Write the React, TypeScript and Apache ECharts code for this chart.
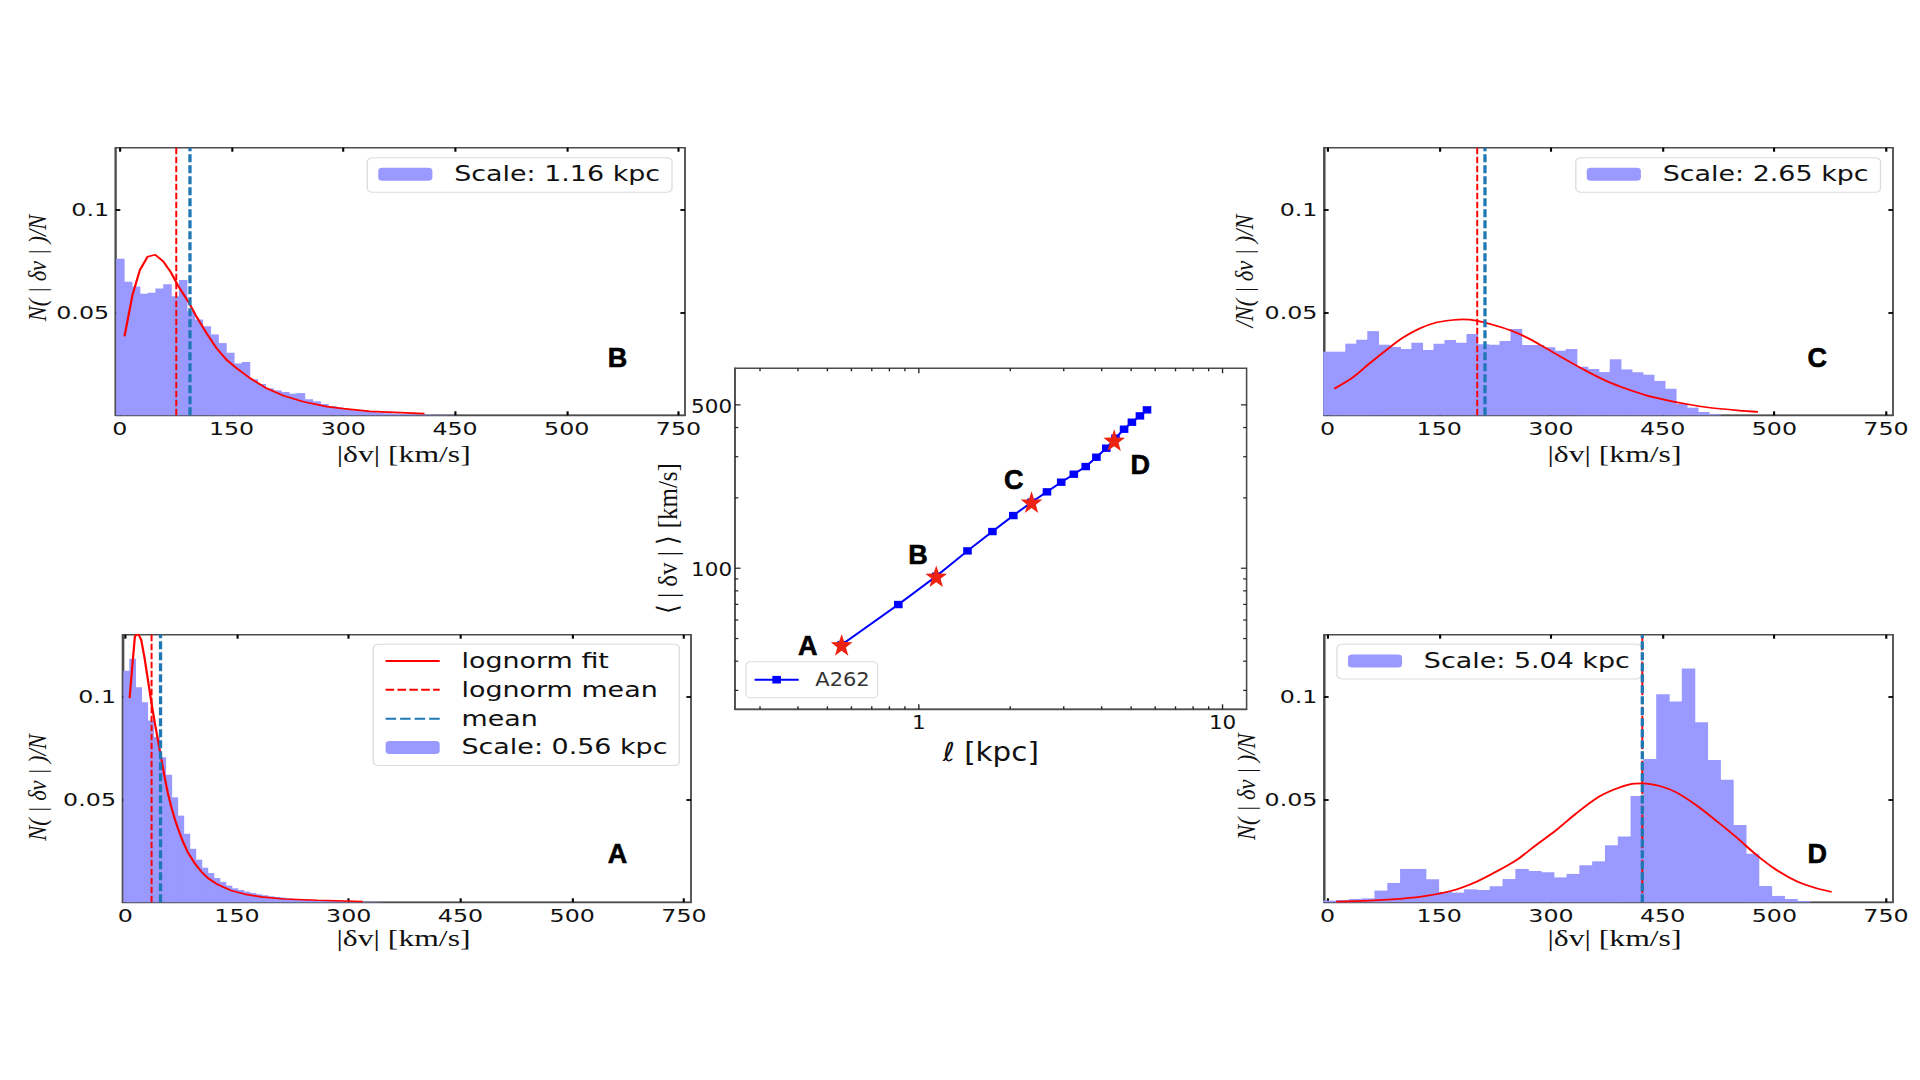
import React, { useEffect, useRef } from "react";
import * as echarts from "echarts";

const S1 = 1.32; // horizontal stretch of the side panels
const S2 = 1.13; // horizontal stretch of the central panel

const xTickValues = [0, 150, 300, 450, 600, 750];
const xTickLabels = ["0", "150", "300", "450", "500", "750"];
const yTickValues = [0.05, 0.1];
const yTickLabels = ["0.05", "0.1"];

const histA = [.1125,.1183,.1045,.0972,.0883,.0803,.0705,.0620,.0510,.0421,.0333,.0260,.0207,.0168,.0142,.0118,.0099,.0081,.0068,.0060,.0052,.0045,.0039,.0034,.0029,.0026,.0023,.0019,.0016,.0015,.0013,.0011,.0009,.0008,.0007,.0006,.0005,.0004,.0003,.0003,.0002,.0002,.0001];
const histB = [.0760,.0649,.0626,.0591,.0595,.0616,.0637,.0578,.0657,.0506,.0466,.0432,.0393,.0351,.0304,.0252,.0259,.0175,.0152,.0131,.0121,.0113,.0105,.0108,.0078,.0068,.0055,.0045,.0037,.0029,.0024,.0020,.0016,.0013,.0010,.0008,.0006,.0005,.0004,.0003,.0002,.0002,.0001];
const histC = [.0309,.0309,.0348,.0367,.0409,.0343,.0332,.0322,.0353,.0317,.0348,.0366,.0353,.0395,.0345,.0343,.0361,.0419,.0341,.0341,.0330,.0314,.0322,.0236,.0225,.0210,.0272,.0223,.0209,.0197,.0167,.0129,.0055,.0037,.0016,.0005];
const histD = [.0008,.0011,.0016,.0019,.0057,.0094,.0162,.0162,.0112,.0050,.0047,.0063,.0060,.0078,.0113,.0162,.0152,.0146,.0121,.0138,.0180,.0199,.0277,.0320,.0516,.0696,.1011,.0976,.1136,.0875,.0691,.0595,.0375,.0236,.0079,.0031,.0016,.0006];

const fitA = [[5.8,.0992],[9.8,.1162],[12.9,.1291],[15,.13],[18,.13],[21.4,.1275],[25.9,.1186],[30.4,.1081],[34.8,.0976],[39.3,.0879],[43.7,.0790],[48.2,.0701],[52.6,.0612],[57.1,.0531],[61.6,.0466],[66.1,.0409],[70.5,.0361],[77.2,.0296],[83.9,.0243],[92.9,.0191],[101.8,.0150],[110.7,.0118],[124.1,.0086],[142,.0057],[160,.0040],[182,.0026],[213,.0016],[258,.0010],[319,.0004]];
const fitB = [[6.3,.0383],[17,.0584],[26.9,.0705],[37.2,.0770],[47.5,.0780],[58.3,.0748],[68.2,.0697],[78,.0631],[93.3,.0544],[103,.0479],[116.6,.0398],[130,.0325],[143.5,.0269],[157,.0228],[175,.0180],[197,.0131],[220,.0095],[246.6,.0066],[278,.0042],[300,.0032],[336,.0019],[409,.0008]];
const fitC = [[9,.0129],[34,.0184],[56.4,.0252],[78.8,.0317],[101.2,.0377],[123.6,.0422],[146,.0451],[168.4,.0463],[181.8,.0466],[199.7,.0460],[222,.0440],[244.5,.0414],[266.9,.0379],[293.8,.0325],[320.6,.0269],[347.5,.0215],[374.4,.0167],[401.2,.0129],[428,.0097],[455,.0074],[481.8,.0055],[508.7,.0039],[553.5,.0023],[578,.0017]];
const fitD = [[11.6,.0003],[56.4,.0008],[101,.0018],[132.5,.0031],[168,.0057],[200,.0100],[226.6,.0149],[253.5,.0205],[280,.0278],[307,.0351],[334,.0432],[361,.0505],[383,.0545],[405.7,.0573],[422.7,.0578],[446,.0565],[468.4,.0534],[495,.0472],[522,.0396],[549,.0316],[576,.0230],[603,.0157],[630,.0102],[656.5,.0068],[677,.0050]];

const scaleLengths = [0.557,0.856,1.141,1.446,1.747,2.047,2.35,2.642,2.943,3.238,3.544,3.843,4.142,4.44,4.74,5.03,5.345,5.64];
const meanVelocities = [47,69.9,92.4,118.6,143.5,168,191.7,212.2,233.4,252.5,272.3,298.5,326.3,360,393.4,421.5,448.6,476];
const starPoints = [[0.557,47],[1.141,92.4],[2.35,191.7],[4.397,353]];

const centreXMajor = [1, 10];
const centreXMinor = [0.3,0.4,0.5,0.6,0.7,0.8,0.9,2,3,4,5,6,7,8,9];
const centreYMajor = [100, 500];
const centreYMinor = [30,40,50,60,70,80,90,200,300,400];

const PANELS = [
  { key: "A", hist: histA, fit: fitA, smooth: false, binStart: -2.2, binWidth: 8.08, mean: 47.3, logMean: 35.3, legend: "Scale: 0.56 kpc", full: true,
    left: 122.6, top: 634.7, width: 568.4, xMin: -3.6, xMax: 759.4, legendLeft: 373.3, legendTop: 644.3, nameGap: 24, namePad: [0, 5, 0, 0],
    yTitle: "N( | δv | )/N", yTitleX: 37.6, yTitleY: 787.5, letterX: 617.6, letterY: 854.3 },
  { key: "B", hist: histB, fit: fitB, smooth: false, binStart: -4.5, binWidth: 10.54, mean: 94.2, logMean: 75.8, legend: "Scale: 1.16 kpc", full: false,
    left: 115.7, top: 147.7, width: 569.3, xMin: -5.5, xMax: 758.7, legendLeft: 367.3, legendTop: 157.7, nameGap: 27, namePad: [0, 0, 0, 5],
    yTitle: "N( | δv | )/N", yTitleX: 37.6, yTitleY: 268, letterX: 617.6, letterY: 358.3 },
  { key: "C", hist: histC, fit: fitC, smooth: 0.3, binStart: -5.4, binWidth: 14.8, mean: 211.4, logMean: 201, legend: "Scale: 2.65 kpc", full: false,
    left: 1324, top: 147.7, width: 569, xMin: -4.8, xMax: 759.4, legendLeft: 1575.8, legendTop: 157.7, nameGap: 27, namePad: [0, 0, 0, 9],
    yTitle: "/N( | δv | )/N", yTitleX: 1244.5, yTitleY: 271, letterX: 1817.3, letterY: 358.3 },
  { key: "D", hist: histD, fit: fitD, smooth: 0.3, binStart: -5.4, binWidth: 17.2, mean: 422.7, logMean: 422.7, legend: "Scale: 5.04 kpc", full: false,
    left: 1324, top: 634.7, width: 569, xMin: -4.8, xMax: 759.4, legendLeft: 1337, legendTop: 644.3, nameGap: 24, namePad: [0, 0, 0, 9],
    yTitle: "N( | δv | )/N", yTitleX: 1246.8, yTitleY: 786.7, letterX: 1817.3, letterY: 854.3 },
];

const PANEL_H = 267.6;
const FRAME = "#4d4d4d";
const TXT = "#111";
const STAR = "path://M0,-10 L2.35,-3.24 L9.51,-3.09 L3.8,1.24 L5.88,8.09 L0,4 L-5.88,8.09 L-3.8,1.24 L-9.51,-3.09 L-2.35,-3.24 Z";
// The legend of a line series always draws a marker: this one is a sliver lying on the line itself.
const NO_SYMBOL = "path://M0,0L0.1,0L0.1,0.1Z M0,50L100,50L100,50.1L0,50.1Z M100,100L99.9,100L99.9,99.9Z";

function letter(text: string, px: number, py: number, s: number) {
  return {
    type: "text", x: px / s, y: py, scaleX: 1 / s, z: 20,
    style: { text, fontFamily: "Liberation Sans", fontWeight: "bold", fontSize: 27, fill: "#000", stroke: "#000", lineWidth: 0.6, align: "center", verticalAlign: "middle" },
  };
}

function sideOption() {
  const grid: any[] = [], xAxis: any[] = [], yAxis: any[] = [], series: any[] = [], legend: any[] = [], graphic: any[] = [];
  PANELS.forEach((p, i) => {
    grid.push({ left: p.left / S1, top: p.top, width: p.width / S1, height: PANEL_H, show: true, borderColor: FRAME, borderWidth: 1.4, backgroundColor: "transparent" });
    const tickX = { show: true, inside: true, length: 4, customValues: xTickValues, lineStyle: { color: "#000", width: 1.6 } };
    const tickY = { show: true, inside: true, length: 3.5, customValues: yTickValues, lineStyle: { color: "#000", width: 1.8 } };
    const ax = i * 2;
    xAxis.push({
      type: "value", gridIndex: i, position: "bottom", min: p.xMin, max: p.xMax, splitLine: { show: false },
      axisLine: { show: true, onZero: false, lineStyle: { color: FRAME, width: 1.4 } }, axisTick: tickX,
      axisLabel: { show: true, customValues: xTickValues, margin: 4, fontFamily: "DejaVu Sans", fontSize: 18, color: TXT, hideOverlap: false,
        formatter: (v: number) => xTickLabels[xTickValues.indexOf(v)] ?? "" },
      name: "|δv| [km/s]", nameLocation: "middle", nameGap: p.nameGap, nameMoveOverlap: false,
      nameTextStyle: { fontFamily: "Liberation Serif", fontSize: 24, color: TXT, padding: p.namePad },
    });
    xAxis.push({ type: "value", gridIndex: i, position: "top", min: p.xMin, max: p.xMax, splitLine: { show: false }, axisLine: { show: false, onZero: false }, axisTick: tickX, axisLabel: { show: false } });
    yAxis.push({
      type: "value", gridIndex: i, position: "left", min: 0, max: 0.13, splitLine: { show: false },
      axisLine: { show: true, onZero: false, lineStyle: { color: FRAME, width: 1.4 } }, axisTick: tickY,
      axisLabel: { show: true, customValues: yTickValues, margin: 5, fontFamily: "DejaVu Sans", fontSize: 18, color: TXT, hideOverlap: false, padding: [2, 0, 0, 0],
        formatter: (v: number) => yTickLabels[yTickValues.indexOf(v)] ?? "" },
    });
    yAxis.push({ type: "value", gridIndex: i, position: "right", min: 0, max: 0.13, splitLine: { show: false }, axisLine: { show: false, onZero: false }, axisTick: tickY, axisLabel: { show: false } });

    const common = { xAxisIndex: ax, yAxisIndex: ax, animation: false, silent: true };
    const binPx = (p.binWidth * (p.width / S1)) / (p.xMax - p.xMin) + 0.5;
    series.push({ ...common, type: "bar", name: p.legend, barWidth: binPx, itemStyle: { color: "#9999ff" }, z: 2,
      data: p.hist.map((v, k) => [p.binStart + (k + 0.5) * p.binWidth, v]) });
    series.push({ ...common, type: "line", name: "lognorm fit", symbol: NO_SYMBOL, showSymbol: false, clip: true, smooth: p.smooth, data: p.fit, lineStyle: { color: "#ff0000", width: 1.7 }, itemStyle: { color: "#ff0000" }, z: 4 });
    series.push({ ...common, type: "line", name: "lognorm mean", symbol: NO_SYMBOL, showSymbol: false, data: [[p.logMean, 0], [p.logMean, 0.13]], lineStyle: { color: "#ff0000", width: 1.5, type: [6.5, 2.5] }, itemStyle: { color: "#ff0000" }, z: 5 });
    series.push({ ...common, type: "line", name: "mean", symbol: NO_SYMBOL, showSymbol: false, data: [[p.mean, 0], [p.mean, 0.13]], lineStyle: { color: "#1f77b4", width: 2.5, type: [8, 3] }, itemStyle: { color: "#1f77b4" }, z: 6 });

    legend.push({
      left: p.legendLeft / S1, top: p.legendTop, orient: "vertical", align: "left",
      data: p.full ? ["lognorm fit", "lognorm mean", "mean", p.legend] : [p.legend],
      itemWidth: 41, itemHeight: 13, itemGap: 8.9, selectedMode: false,
      padding: [6.6, 9, 8, 8.3], borderColor: "#dcdcdc", borderWidth: 1, borderRadius: 4, backgroundColor: "rgba(255,255,255,0.8)",
      textStyle: { fontFamily: "DejaVu Sans", fontSize: 20.4, lineHeight: 20, color: TXT, padding: [0, 0, 0, 11.5] },
    });
    graphic.push({
      type: "text", x: p.yTitleX / S1, y: p.yTitleY, rotation: Math.PI / 2, scaleY: 0.85, z: 20,
      style: { text: p.yTitle, fontFamily: "Liberation Serif", fontStyle: "italic", fontSize: 22.5, fill: TXT, align: "center", verticalAlign: "middle" },
    });
    graphic.push(letter(p.key, p.letterX, p.letterY, S1));
  });
  return { animation: false, grid, xAxis, yAxis, series, legend, graphic };
}

function tickSeries(kind: "x" | "y", values: number[], len: number, labelled: boolean) {
  return {
    type: "custom", silent: true, clip: false, animation: false, z: 8,
    data: values.map((v) => (kind === "x" ? [v, 100] : [1, v])),
    renderItem: (params: any, api: any) => {
      const r = params.coordSys;
      const children: any[] = [];
      const stroke = { stroke: "#222", lineWidth: 1.2 };
      if (kind === "x") {
        const v = api.value(0);
        const px = api.coord([v, 100])[0];
        children.push({ type: "line", shape: { x1: px, y1: r.y + r.height, x2: px, y2: r.y + r.height - len }, style: stroke });
        children.push({ type: "line", shape: { x1: px, y1: r.y, x2: px, y2: r.y + len }, style: stroke });
        if (labelled) children.push({ type: "text", style: { text: String(v), x: px, y: r.y + r.height + 13.4, align: "center", verticalAlign: "middle", fontFamily: "DejaVu Sans", fontSize: 19, fill: TXT } });
      } else {
        const v = api.value(1);
        const py = api.coord([1, v])[1];
        children.push({ type: "line", shape: { x1: r.x, y1: py, x2: r.x + len, y2: py }, style: stroke });
        children.push({ type: "line", shape: { x1: r.x + r.width, y1: py, x2: r.x + r.width - len, y2: py }, style: stroke });
        if (labelled) children.push({ type: "text", style: { text: String(v), x: r.x - 2.5, y: py + 1.5, align: "right", verticalAlign: "middle", fontFamily: "DejaVu Sans", fontSize: 19, fill: TXT } });
      }
      return { type: "group", children };
    },
  };
}

function centreOption() {
  return {
    animation: false,
    grid: { left: 734.9 / S2, top: 368.3, width: 511.7 / S2, height: 341, show: true, borderColor: FRAME, borderWidth: 1.4, backgroundColor: "transparent" },
    xAxis: {
      type: "log", logBase: 10, min: 0.248, max: 12, splitLine: { show: false }, axisTick: { show: false }, axisLabel: { show: false },
      axisLine: { show: true, onZero: false, lineStyle: { color: FRAME, width: 1.4 } },
      name: "ℓ [kpc]", nameLocation: "middle", nameGap: 30, nameMoveOverlap: false,
      nameTextStyle: { fontFamily: "DejaVu Sans", fontSize: 26, color: TXT },
    },
    yAxis: {
      type: "log", logBase: 10, min: 24.9, max: 717, splitLine: { show: false }, axisTick: { show: false }, axisLabel: { show: false },
      axisLine: { show: true, onZero: false, lineStyle: { color: FRAME, width: 1.4 } },
      name: "⟨ | δv | ⟩ [km/s]", nameLocation: "middle", nameGap: 47, nameMoveOverlap: false,
      nameTextStyle: { fontFamily: "Liberation Serif", fontSize: 25, color: TXT },
    },
    legend: {
      left: 746 / S2, top: 661.7, data: ["A262"], itemWidth: 39, itemHeight: 9.5, selectedMode: false,
      padding: [8, 7, 8, 6.6], borderColor: "#dcdcdc", borderWidth: 1, borderRadius: 4, backgroundColor: "rgba(255,255,255,0.8)",
      textStyle: { fontFamily: "DejaVu Sans", fontSize: 18.6, lineHeight: 20, color: "#333", padding: [0, 0, 0, 9.7] },
    },
    series: [
      { type: "line", name: "A262", data: scaleLengths.map((l, i) => [l, meanVelocities[i]]), symbol: "rect", symbolSize: [7.6, 7.4], showSymbol: true,
        lineStyle: { color: "#0000ff", width: 1.9 }, itemStyle: { color: "#0000ff" }, z: 3, silent: true },
      { type: "scatter", name: "points", data: starPoints, symbol: STAR, symbolSize: [21.7 / S2, 21.7], itemStyle: { color: "#ee2211", opacity: 1 }, z: 5, silent: true },
      tickSeries("x", centreXMajor, 5, true),
      tickSeries("x", centreXMinor, 3, false),
      tickSeries("y", centreYMajor, 5, true),
      tickSeries("y", centreYMinor, 3, false),
    ],
    graphic: [
      letter("A", 807.7, 646, S2),
      letter("B", 918, 554.7, S2),
      letter("C", 1013.7, 480, S2),
      letter("D", 1140.2, 465, S2),
    ],
  };
}

function Stretched({ scale, option }: { scale: number; option: () => any }) {
  const ref = useRef<HTMLDivElement>(null);
  useEffect(() => {
    const chart = echarts.init(ref.current as HTMLDivElement, undefined, { renderer: "svg" });
    chart.setOption(option());
    return () => chart.dispose();
  }, []);
  return (
    <div
      ref={ref}
      style={{
        position: "absolute", left: 0, top: 0, width: 1920 / scale, height: 1080,
        transform: `scaleX(${scale})`, transformOrigin: "0 0",
      }}
    />
  );
}

export default function App() {
  return (
    <div style={{ position: "fixed", left: 0, top: 0, width: 1920, height: 1080, overflow: "hidden", background: "#fff" }}>
      <Stretched scale={S1} option={sideOption} />
      <Stretched scale={S2} option={centreOption} />
    </div>
  );
}
